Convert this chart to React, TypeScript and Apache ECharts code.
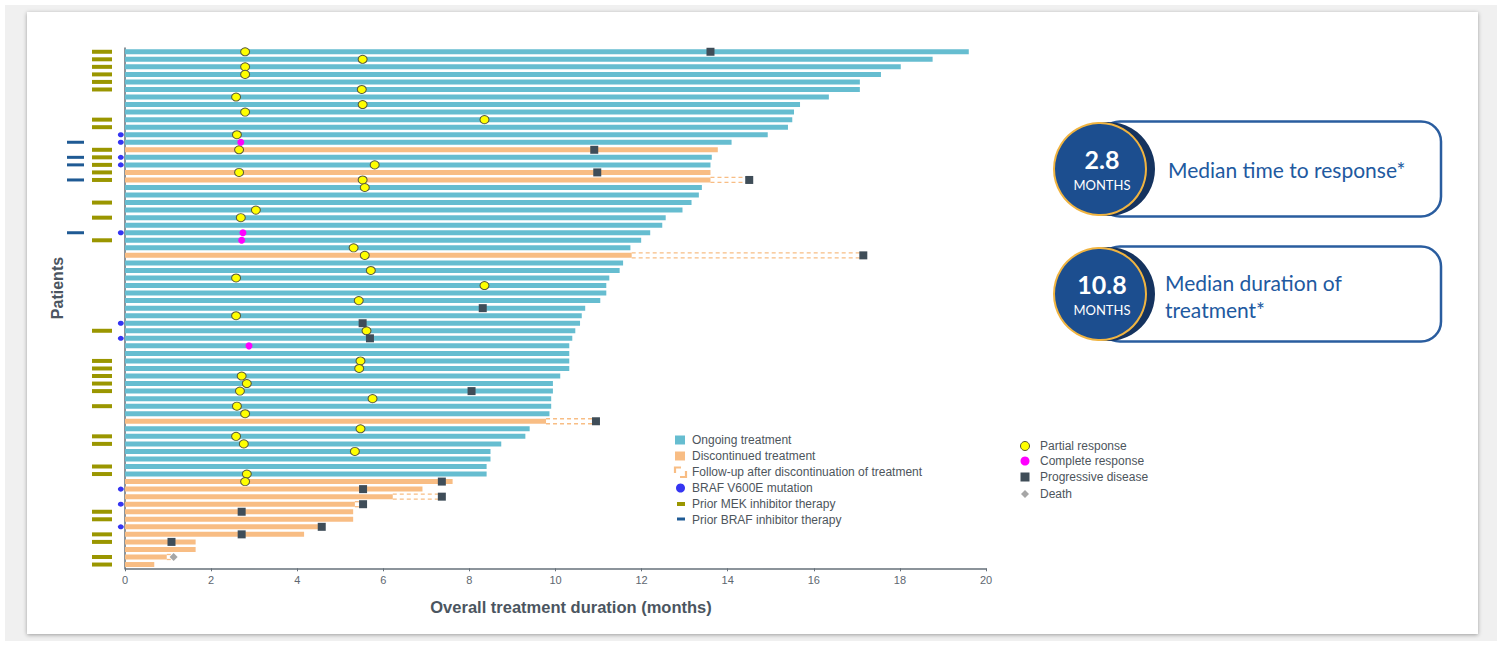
import React, { useEffect, useRef } from 'react';
import * as echarts from 'echarts';

// ---------- DATA ----------
// overall treatment duration (months), patient rows top to bottom
const durations = [
  19.60, 18.76, 18.02, 17.56, 17.07, 17.07, 16.35, 15.68, 15.54, 15.50,
  15.40, 14.93, 14.09, 13.77, 13.63, 13.60, 13.60, 13.60, 13.40, 13.33,
  13.16, 12.95, 12.56, 12.48, 12.20, 11.99, 11.74, 11.77, 11.57, 11.49,
  11.25, 11.18, 11.18, 11.04, 10.69, 10.61, 10.57, 10.46, 10.39, 10.32,
  10.32, 10.32, 10.32, 10.11, 9.94, 9.94, 9.90, 9.90, 9.86, 9.78,
  9.40, 9.30, 8.74, 8.49, 8.49, 8.40, 8.40, 7.61, 6.91, 6.22,
  5.34, 5.30, 5.30, 4.52, 4.16, 1.64, 1.64, 0.97, 0.68,
];
const patients = durations.map((_, i) => `Patient ${i + 1}`);
// rows (1-based) whose treatment was discontinued
const discontinuedRows = [14, 17, 18, 28, 50, 58, 59, 60, 61, 62, 63, 64, 65, 66, 67, 68, 69];
// [row, end of follow-up after discontinuation (months)]
const followUps = [[18, 14.45], [28, 17.09], [50, 10.88], [60, 7.30], [61, 5.48], [68, 1.10]];
// [row, month]
const partialResponse = [
  [1, 2.79], [2, 5.52], [3, 2.79], [4, 2.79], [6, 5.50], [7, 2.58], [8, 5.52], [9, 2.79],
  [10, 8.35], [12, 2.60], [14, 2.65], [16, 5.80], [17, 2.65], [18, 5.52], [19, 5.57],
  [22, 3.04], [23, 2.69], [27, 5.31], [28, 5.57], [30, 5.71], [31, 2.58], [32, 8.35],
  [34, 5.43], [36, 2.58], [38, 5.61], [42, 5.47], [43, 5.44], [44, 2.71], [45, 2.83],
  [46, 2.67], [47, 5.75], [48, 2.60], [49, 2.79], [51, 5.47], [52, 2.58], [53, 2.76],
  [54, 5.34], [57, 2.83], [58, 2.79],
];
const completeResponse = [[13, 2.69], [25, 2.74], [26, 2.71], [40, 2.88]];
const progressiveDisease = [
  [1, 13.60], [14, 10.90], [17, 10.97], [18, 14.50], [28, 17.15], [35, 8.31], [37, 5.52],
  [39, 5.69], [46, 8.05], [50, 10.94], [58, 7.36], [59, 5.53], [60, 7.36], [61, 5.53],
  [62, 2.71], [64, 4.57], [65, 2.71], [66, 1.08],
];
const deaths = [[68, 1.13]];
const brafV600E = [12, 13, 15, 16, 25, 37, 39, 59, 61, 64];
const priorMek = [1, 2, 3, 4, 5, 6, 10, 11, 14, 15, 16, 17, 18, 21, 23, 26, 38, 42, 43, 44, 45, 46, 48, 52, 53, 56, 57, 62, 63, 65, 66, 68, 69];
const priorBrafInhibitor = [13, 15, 16, 18, 25];

const xTicks = { min: 0, max: 20, interval: 2 };
const medianResponse = '2.8';
const medianDuration = '10.8';

// ---------- STYLE ----------
const BLUE = '#66BDD0';
const ORANGE = '#F8BD84';
const PD = '#3F4D58';
const YELLOW = '#FFFF00';
const MAGENTA = '#FF00FF';
const OLIVE = '#9A9600';
const NAVY = '#1F5A94';
const DOT = '#3535F2';
const AXIS = '#66707A';
const TXT = '#4B5560';
const FONT = '"Liberation Sans", Arial, sans-serif';
const CALLOUT_FONT = 'Lato, "Open Sans", sans-serif';

const GRID_TOP = 48;
const GRID_H = 520.3;
// column positions (px inside the left marker strip)
const COL_BRAF_INH = 15.5;
const COL_MEK = 42;
const COL_V600E = 60.8;

const isDisc = (i: number) => discontinuedRows.includes(i + 1);

function buildOption() {
  const legendText = (x: number, y: number, text: string) => ({
    type: 'text', x, y,
    style: { text, fill: '#4D555C', fontSize: 12, fontFamily: FONT, verticalAlign: 'middle', align: 'left' },
  });
  const lx = 675, ltx = 692;
  const ly = [440, 456, 472, 488, 504, 520];
  const rx = 1025, rtx = 1040;
  const ry = [446, 461, 477, 494];

  const callout = (cy: number, value: string, lines: string[]) => {
    const top = cy - 47.5;
    const els: any[] = [
      { type: 'rect', shape: { x: 1100, y: top, width: 341, height: 95, r: 20 }, style: { fill: '#fff', stroke: '#2A5D9F', lineWidth: 2.5 } },
      { type: 'circle', shape: { cx: 1108, cy, r: 47 }, style: { fill: '#15335F' } },
      { type: 'circle', shape: { cx: 1100, cy, r: 46 }, style: { fill: '#1C4E8F', stroke: '#F0B441', lineWidth: 2 } },
      { type: 'text', x: 1102, y: cy - 10, style: { text: value, fill: '#fff', fontSize: 25, fontWeight: 'bold', fontFamily: CALLOUT_FONT, align: 'center', verticalAlign: 'middle' } },
      { type: 'text', x: 1102, y: cy + 16, style: { text: 'MONTHS', fill: '#fff', fontSize: 13, fontFamily: CALLOUT_FONT, align: 'center', verticalAlign: 'middle' } },
    ];
    if (lines.length === 1) {
      els.push({ type: 'text', x: 1168, y: cy, style: { text: lines[0], fill: '#2159A0', fontSize: 21, fontFamily: CALLOUT_FONT, align: 'left', verticalAlign: 'middle' } });
    } else {
      lines.forEach((t, k) => els.push({ type: 'text', x: 1165, y: cy - 12 + k * 27, style: { text: t, fill: '#2159A0', fontSize: 21, fontFamily: CALLOUT_FONT, align: 'left', verticalAlign: 'middle' } }));
    }
    return els;
  };

  const graphic: any[] = [
    { type: 'text', x: 57, y: 288, rotation: Math.PI / 2, style: { text: 'Patients', fill: TXT, fontSize: 16, fontWeight: 'bold', fontFamily: FONT, align: 'center', verticalAlign: 'middle' } },
    { type: 'text', x: 571, y: 607, style: { text: 'Overall treatment duration (months)', fill: TXT, fontSize: 16.5, fontWeight: 'bold', fontFamily: FONT, align: 'center', verticalAlign: 'middle' } },
    // legend 1
    { type: 'rect', shape: { x: lx, y: ly[0] - 4.5, width: 10, height: 9 }, style: { fill: BLUE } },
    legendText(ltx, ly[0], 'Ongoing treatment'),
    { type: 'rect', shape: { x: lx, y: ly[1] - 4.5, width: 10, height: 9 }, style: { fill: ORANGE } },
    legendText(ltx, ly[1], 'Discontinued treatment'),
    { type: 'polyline', shape: { points: [[lx, ly[2] + 1], [lx, ly[2] - 4.5], [lx + 6, ly[2] - 4.5]] }, style: { stroke: ORANGE, lineWidth: 2.2, fill: 'none' } },
    { type: 'polyline', shape: { points: [[lx + 5, ly[2] + 5], [lx + 11, ly[2] + 5], [lx + 11, ly[2] - 1]] }, style: { stroke: ORANGE, lineWidth: 2.2, fill: 'none' } },
    legendText(ltx, ly[2], 'Follow-up after discontinuation of treatment'),
    { type: 'circle', shape: { cx: lx + 5.5, cy: ly[3], r: 4.5 }, style: { fill: DOT } },
    legendText(ltx, ly[3], 'BRAF V600E mutation'),
    { type: 'rect', shape: { x: lx + 2, y: ly[4] - 2, width: 8, height: 4 }, style: { fill: OLIVE } },
    legendText(ltx, ly[4], 'Prior MEK inhibitor therapy'),
    { type: 'rect', shape: { x: lx + 2, y: ly[5] - 2.5, width: 8, height: 3 }, style: { fill: NAVY } },
    legendText(ltx, ly[5], 'Prior BRAF inhibitor therapy'),
    // legend 2
    { type: 'circle', shape: { cx: rx, cy: ry[0], r: 4.5 }, style: { fill: YELLOW, stroke: '#555533', lineWidth: 1 } },
    legendText(rtx, ry[0], 'Partial response'),
    { type: 'circle', shape: { cx: rx, cy: ry[1], r: 4.5 }, style: { fill: MAGENTA } },
    legendText(rtx, ry[1], 'Complete response'),
    { type: 'rect', shape: { x: rx - 4.5, y: ry[2] - 4.5, width: 9, height: 9 }, style: { fill: PD } },
    legendText(rtx, ry[2], 'Progressive disease'),
    { type: 'polygon', shape: { points: [[rx, ry[3] - 4], [rx + 4, ry[3]], [rx, ry[3] + 4], [rx - 4, ry[3]]] }, style: { fill: '#A6A6A6' } },
    legendText(rtx, ry[3], 'Death'),
    ...callout(169, medianResponse, ['Median time to response*']),
    ...callout(294, medianDuration, ['Median duration of', 'treatment*']),
  ];

  const toPts = (arr: number[][]) => arr.map(([r, m]) => [m, r - 1]);

  return {
    animation: false,
    grid: [
      { left: 125, top: GRID_TOP, width: 861, height: GRID_H },
      { left: 60, top: GRID_TOP, width: 65, height: GRID_H },
    ],
    xAxis: [
      {
        type: 'value', gridIndex: 0, min: xTicks.min, max: xTicks.max, interval: xTicks.interval,
        splitLine: { show: false },
        axisLine: { show: true, lineStyle: { color: AXIS, width: 1.5 } },
        axisTick: { show: true, length: 3, lineStyle: { color: AXIS } },
        axisLabel: { color: '#5E6770', fontSize: 11, fontFamily: FONT, margin: 6 },
      },
      { type: 'value', gridIndex: 1, min: 0, max: 65, show: false },
    ],
    yAxis: [
      {
        type: 'category', gridIndex: 0, data: patients, inverse: true,
        axisLine: { show: true, lineStyle: { color: AXIS, width: 1.5 } },
        axisTick: { show: false }, axisLabel: { show: false }, splitLine: { show: false },
      },
      { type: 'category', gridIndex: 1, data: patients, inverse: true, show: false },
    ],
    series: [
      {
        name: 'Ongoing treatment', type: 'bar', xAxisIndex: 0, yAxisIndex: 0,
        barWidth: 5, barGap: '-100%',
        data: durations.map((d, i) => (isDisc(i) ? '-' : d)),
        itemStyle: { color: BLUE },
      },
      {
        name: 'Discontinued treatment', type: 'bar', xAxisIndex: 0, yAxisIndex: 0,
        barWidth: 5, barGap: '-100%',
        data: durations.map((d, i) => (isDisc(i) ? d : '-')),
        itemStyle: { color: ORANGE },
      },
      {
        name: 'Follow-up after discontinuation of treatment', type: 'custom', xAxisIndex: 0, yAxisIndex: 0,
        data: followUps.map(([r, end]) => [durations[r - 1], end, r - 1]),
        encode: { x: [0, 1], y: 2 },
        z: 3,
        renderItem: (params: any, api: any) => {
          const s = api.coord([api.value(0), api.value(2)]);
          const e = api.coord([api.value(1), api.value(2)]);
          const h = 5;
          const st = { stroke: ORANGE, lineWidth: 1.3, lineDash: [4, 3], fill: 'none' };
          return {
            type: 'group',
            children: [
              { type: 'line', shape: { x1: s[0], y1: s[1] - h / 2, x2: e[0], y2: e[1] - h / 2 }, style: st },
              { type: 'line', shape: { x1: s[0], y1: s[1] + h / 2, x2: e[0], y2: e[1] + h / 2 }, style: st },
            ],
          };
        },
      },
      {
        name: 'Partial response', type: 'scatter', xAxisIndex: 0, yAxisIndex: 0, z: 5,
        symbol: 'circle', symbolSize: [9, 8],
        itemStyle: { color: YELLOW, borderColor: '#5A5A3A', borderWidth: 1, opacity: 1 },
        data: toPts(partialResponse),
      },
      {
        name: 'Complete response', type: 'scatter', xAxisIndex: 0, yAxisIndex: 0, z: 5,
        symbol: 'circle', symbolSize: 7,
        itemStyle: { color: MAGENTA, opacity: 1 },
        data: toPts(completeResponse),
      },
      {
        name: 'Progressive disease', type: 'scatter', xAxisIndex: 0, yAxisIndex: 0, z: 5,
        symbol: 'rect', symbolSize: 8,
        itemStyle: { color: PD, opacity: 1 },
        data: toPts(progressiveDisease),
      },
      {
        name: 'Death', type: 'scatter', xAxisIndex: 0, yAxisIndex: 0, z: 5,
        symbol: 'diamond', symbolSize: 8,
        itemStyle: { color: '#A6A6A6', opacity: 1 },
        data: toPts(deaths),
      },
      {
        name: 'Prior BRAF inhibitor therapy', type: 'scatter', xAxisIndex: 1, yAxisIndex: 1,
        symbol: 'rect', symbolSize: [17, 3],
        itemStyle: { color: NAVY, opacity: 1 },
        data: priorBrafInhibitor.map((r) => [COL_BRAF_INH, r - 1]),
      },
      {
        name: 'Prior MEK inhibitor therapy', type: 'scatter', xAxisIndex: 1, yAxisIndex: 1,
        symbol: 'rect', symbolSize: [20, 4],
        itemStyle: { color: OLIVE, opacity: 1 },
        data: priorMek.map((r) => [COL_MEK, r - 1]),
      },
      {
        name: 'BRAF V600E mutation', type: 'scatter', xAxisIndex: 1, yAxisIndex: 1, z: 1,
        symbol: 'circle', symbolSize: [6, 5],
        itemStyle: { color: DOT, opacity: 1 },
        data: brafV600E.map((r) => [COL_V600E, r - 1]),
      },
    ],
    graphic,
  };
}

export default function App() {
  const ref = useRef<HTMLDivElement>(null);
  useEffect(() => {
    if (!ref.current) return;
    const chart = echarts.init(ref.current, null, { renderer: 'svg' });
    chart.setOption(buildOption() as any);
    return () => chart.dispose();
  }, []);
  return (
    <div style={{ position: 'fixed', left: 0, top: 0, width: 1502, height: 646, background: '#fff', overflow: 'hidden' }}>
      <div style={{ position: 'absolute', left: 5, top: 5, width: 1492, height: 636, background: '#F0F0F0' }} />
      <div style={{ position: 'absolute', left: 27, top: 12, width: 1451, height: 622, background: '#fff', boxShadow: '0 1px 4px rgba(0,0,0,0.35)' }} />
      <div ref={ref} style={{ position: 'absolute', left: 0, top: 0, width: 1502, height: 646 }} />
    </div>
  );
}
